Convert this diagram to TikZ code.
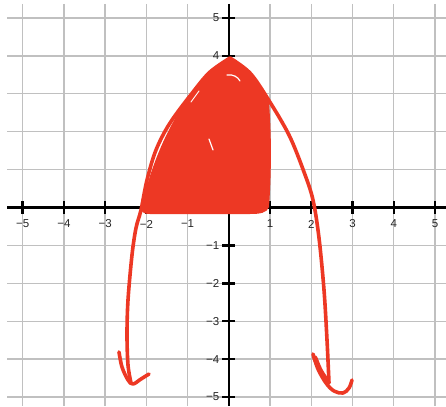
\documentclass[tikz,border=0pt]{standalone}
\usepackage{fontspec}
\setmainfont{Liberation Sans}
\definecolor{gridgray}{RGB}{192,192,192}
\definecolor{pen}{RGB}{237,56,36}
\begin{document}
\begin{tikzpicture}[x=1pt,y=-1pt,
  gridline/.style={draw=gridgray,line width=1.4pt},
  axisline/.style={draw=black,line width=2.6pt},
  tickmark/.style={draw=black,line width=2.4pt},
  lbl/.style={font=\fontsize{11.5}{12}\selectfont,text=black!85,inner sep=0pt},
  penline/.style={draw=pen,line width=3.6pt,line cap=round,line join=round},
  gap/.style={draw=white,line width=1.2pt,line cap=round}]
\useasboundingbox (0,0) rectangle (446,406);
\fill[white] (0,0) rectangle (446,406);
% grid
\foreach \i in {-5,...,5}{
  \draw[gridline] ({228.8+41.23*\i},4) -- ({228.8+41.23*\i},406);
  \draw[gridline] (7,{207.5-37.9*\i}) -- (446,{207.5-37.9*\i});
}
% axes
\coordinate (xl) at (7,207.5);
\coordinate (xr) at (446,207.5);
\coordinate (yt) at (228.8,4);
\coordinate (yb) at (228.8,406);
\draw[axisline] (xl) -- (xr);
\draw[axisline] (yt) -- (yb);
% ticks and labels
\foreach \i in {-5,...,-1,1,2,...,5}{
  \draw[tickmark] ({228.8+41.23*\i},201) -- ({228.8+41.23*\i},214);
  \draw[tickmark] (222.3,{207.5-37.9*\i}) -- (235.3,{207.5-37.9*\i});
}
\foreach \i/\t in {-5/−5,-4/−4,-3/−3,-2/−2,-1/−1,1/1,2/2,3/3,4/4,5/5}{
  \node[lbl] (xlab\i) at ({228.8+41.23*\i},224) {\t};
  \node[lbl,anchor=east] (ylab\i) at (219.5,{207.5-37.9*\i}) {\t};
}
% red filled region
\fill[pen] (230,57) .. controls (245,67) and (262,84) .. (269,103)
  .. controls (272,140) and (271,180) .. (269,207)
  .. controls (267,213) and (260,214) .. (250,214) -- (150,214)
  .. controls (143,214) and (140,212) .. (142,205)
  .. controls (150,170) and (165,130) .. (190,95)
  .. controls (205,75) and (220,64) .. (230,57) -- cycle;
% left branch with arrow
\draw[penline] plot[smooth,tension=0.55] coordinates {
  (230,58) (210,72) (193,92) (170,123) (156,150) (147,180) (141,210)
  (136,228) (132,255) (128,300) (127,335) (128,365) (131,383)};
\draw[penline] plot[smooth,tension=0.6] coordinates {
  (119,352) (122,367) (128,380) (133,384) (141,379) (149,374)};
% right branch with arrow
\draw[penline] plot[smooth,tension=0.55] coordinates {
  (230,58) (250,73) (268,99) (289,135) (304,172) (313,200)
  (319,238) (324,290) (327,340) (329,383)};
\draw[penline] plot[smooth,tension=0.6] coordinates {
  (313,354) (318,369) (326,383) (334,391) (343,393) (349,388) (352,380)};
\draw[penline,line width=5pt] plot[smooth] coordinates {(315,358) (320,370) (327,381)};
% small gaps in the colouring
\draw[gap] (227,75) .. controls (233,74) and (238,77) .. (240,81);
\draw[gap] (209,139) -- (213,150);
\draw[gap,line width=0.9pt] (191,102) -- (199,91);
\end{tikzpicture}
\end{document}
